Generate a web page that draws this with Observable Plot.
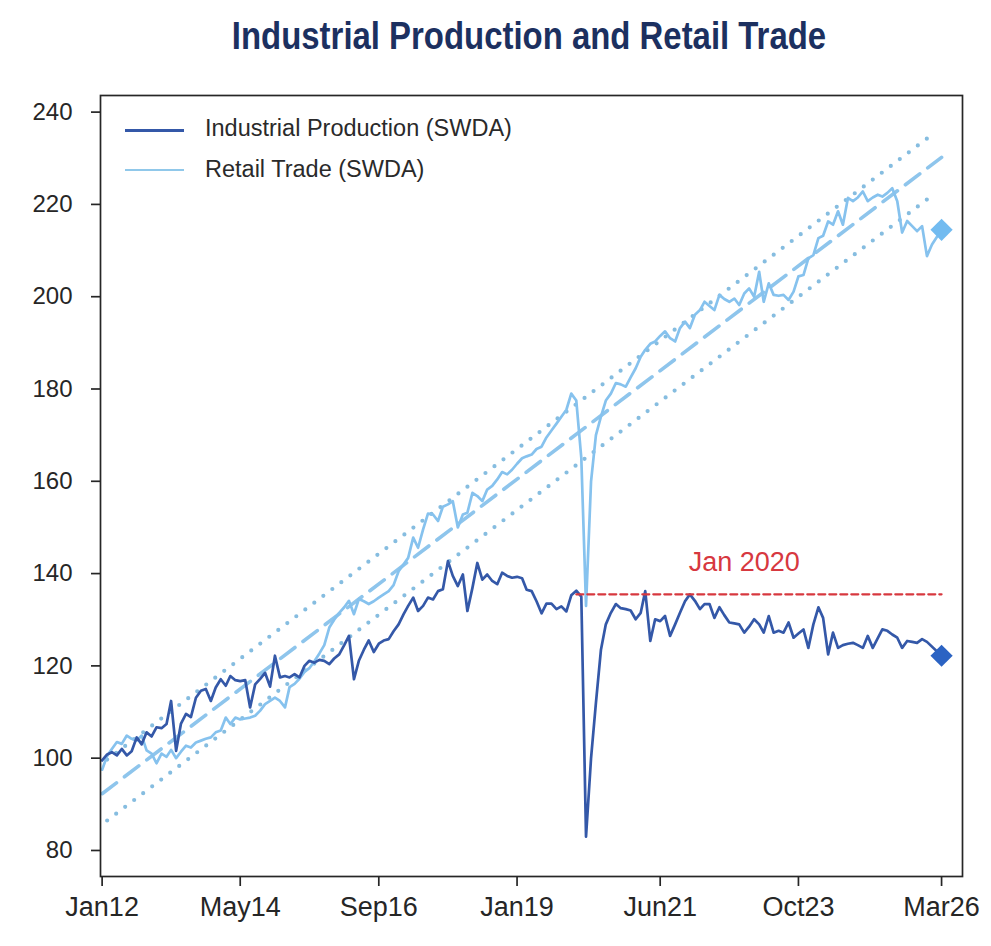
<!DOCTYPE html>
<html>
<head>
<meta charset="utf-8">
<script src="https://cdn.jsdelivr.net/npm/d3@7"></script>
<script src="https://cdn.jsdelivr.net/npm/@observablehq/plot@0.6"></script>
<style>
  body { margin: 0; background: #fff; font-family: "Liberation Sans", Arial, sans-serif; }
  #wrap { position: relative; width: 991px; height: 946px; overflow: hidden; }
  #title { position: absolute; left: 528.7px; top: 17.4px; font-size: 38px; font-weight: bold;
           line-height: 1; color: #1c3060; white-space: nowrap;
           transform: translateX(-50%) scaleX(0.866); transform-origin: center; }
  #chart { position: absolute; left: 0; top: 70px; }
  .leg { position: absolute; font-size: 23.5px; line-height: 1; color: #2a2a2a; white-space: nowrap; }
  .sw { position: absolute; height: 2.6px; width: 59px; left: 125px; }
</style>
</head>
<body>
<div id="wrap">
  <div id="title">Industrial Production and Retail Trade</div>
  <div id="chart"></div>
  <div class="sw" id="sw1" style="top:129.4px;"></div>
  <div class="leg" id="lg1" style="left:205px; top:116.5px;"></div>
  <div class="sw" id="sw2" style="top:168.7px;"></div>
  <div class="leg" id="lg2" style="left:205px; top:158px;"></div>
</div>
<script>
// ---------------- data ----------------
const startMonth = "2012-01";

const seriesNames = ["Industrial Production (SWDA)", "Retail Trade (SWDA)"];

const ipValues = [
  99.5, 100.8, 101.3, 100.6, 102.0, 100.6, 101.5, 104.5, 103.0, 105.6, 104.7, 106.7,
  106.5, 107.4, 112.4, 101.6, 107.5, 109.6, 108.9, 113.1, 114.6, 115.0, 112.4, 115.3,
  117.1, 115.7, 117.8, 116.9, 116.7, 116.9, 111.0, 116.0, 117.2, 118.5, 115.5, 122.2,
  117.5, 117.8, 117.5, 118.2, 117.5, 120.0, 121.1, 120.7, 121.3, 121.1, 120.4, 121.6,
  122.5, 124.5, 126.5, 117.1, 121.1, 123.5, 125.5, 123.0, 124.8, 125.5, 125.8, 127.5,
  129.0, 131.2, 133.0, 134.8, 131.9, 133.0, 134.8, 134.4, 136.2, 136.6, 142.7, 139.5,
  137.3, 139.8, 131.9, 136.9, 142.3, 138.7, 139.8, 138.4, 137.7, 140.2, 139.5, 139.1,
  139.3, 139.0, 136.5, 136.2, 134.0, 131.4, 133.5, 133.5, 132.3, 132.9, 131.8, 135.3,
  136.3, 135.0, 83.0, 100.0, 112.0, 123.5, 129.0, 131.5, 133.4, 132.5, 132.3, 132.0,
  130.1, 131.5, 136.2, 125.4, 130.1, 129.7, 130.8, 126.5, 129.0, 131.5, 134.0, 135.5,
  134.1, 132.3, 133.4, 133.4, 130.4, 132.7, 131.0, 129.4, 129.2, 129.0, 127.2, 128.5,
  130.1, 129.0, 127.2, 130.8, 127.2, 127.6, 127.2, 129.4, 126.1, 127.0, 127.9, 123.9,
  129.0, 132.7, 130.4, 122.5, 127.2, 123.9, 124.5, 124.8, 125.0, 124.5, 123.9, 126.5,
  123.9, 126.0, 127.9, 127.6, 126.8, 126.1, 123.9, 125.4, 125.2, 125.0, 125.8, 125.2
];

const rtValues = [
  97.5, 100.5, 102.0, 103.5, 103.1, 104.9, 104.2, 103.8, 104.9, 101.7, 101.0, 98.9,
  101.0, 100.3, 101.8, 100.0, 101.4, 102.7, 102.3, 103.4, 103.8, 104.2, 104.5, 105.6,
  106.0, 108.8, 107.4, 108.8, 108.4, 108.6, 108.8, 109.2, 110.3, 111.7, 112.4, 113.1,
  112.4, 111.0, 115.4, 116.1, 117.2, 118.7, 119.5, 121.0, 122.7, 124.5, 128.3, 130.0,
  131.5, 132.7, 134.1, 131.2, 134.5, 134.0, 133.4, 134.0, 134.8, 135.5, 136.2, 137.5,
  140.5, 142.0, 143.4, 147.8, 145.6, 149.6, 153.0, 152.8, 151.4, 154.5, 155.0, 155.7,
  150.0, 152.8, 153.2, 157.5, 156.8, 155.7, 158.2, 159.0, 160.4, 162.0, 161.5, 162.5,
  163.8, 165.0, 165.4, 165.8, 167.0, 167.5, 169.5, 171.0, 172.5, 174.0, 175.5, 179.0,
  177.5, 165.0, 133.0, 160.0, 170.0, 174.0, 177.5, 179.0, 181.3, 181.0, 180.5, 182.5,
  184.5, 187.0, 188.5, 189.8, 190.3, 191.5, 192.5, 191.0, 190.3, 193.2, 194.6, 193.2,
  196.1, 197.1, 198.9, 198.0, 197.1, 200.4, 199.5, 198.9, 199.6, 198.2, 200.7, 201.8,
  200.0, 205.4, 198.9, 202.9, 200.4, 200.2, 200.4, 199.3, 201.1, 204.4, 204.7, 208.3,
  209.0, 212.7, 213.2, 216.3, 215.6, 218.5, 215.6, 221.4, 220.7, 221.5, 222.8, 220.7,
  221.5, 222.1, 221.7, 222.5, 223.5, 220.7, 213.9, 216.4, 215.3, 214.2, 215.3, 208.8,
  211.3
];

// latest points (diamonds)
const lastMonth = "2026-03";
const ipLast = 122.2;
const rtLast = 214.5;

// retail trend (dashed) and band (dotted)
const trendMonths = ["2012-01", "2026-03"];
const trendValues = [92.3, 230.2];
const bandMonths = ["2012-02", "2026-01"];
const bandUpper = [99.7, 235.1];
const bandLower = [86.5, 221.9];

// Jan 2020 reference line
const refMonths = ["2020-01", "2026-03"];
const refValue = 135.5;
const refLabel = "Jan 2020";
const refLabelMonth = "2022-11";
const refLabelValue = 142.4;

// axes
const tickMonths = ["2012-01", "2014-05", "2016-09", "2019-01", "2021-06", "2023-10", "2026-03"];
const tickLabels = ["Jan12", "May14", "Sep16", "Jan19", "Jun21", "Oct23", "Mar26"];
const yTicks = [80, 100, 120, 140, 160, 180, 200, 220, 240];

// colours
const ipColor = "#3458a8";
const rtColor = "#86c2ee";
const ipDiamond = "#2b63c3";
const rtDiamond = "#72bbf0";
const trendColor = "#8ec5ec";
const bandColor = "#86bde0";
const refColor = "#d7383f";
const axisColor = "#262626";

// ---------------- build ----------------
const parse = d3.utcParse("%Y-%m");
const t0 = parse(startMonth);
const ipData = ipValues.map((v, i) => ({date: d3.utcMonth.offset(t0, i), value: v}))
  .concat([{date: parse(lastMonth), value: ipLast}]);
const rtData = rtValues.map((v, i) => ({date: d3.utcMonth.offset(t0, i), value: v}))
  .concat([{date: parse(lastMonth), value: rtLast}]);
const trendData = trendMonths.map((m, i) => ({date: parse(m), value: trendValues[i]}));
const upperData = bandMonths.map((m, i) => ({date: parse(m), value: bandUpper[i]}));
const lowerData = bandMonths.map((m, i) => ({date: parse(m), value: bandLower[i]}));
const refData = refMonths.map(m => ({date: parse(m), value: refValue}));
const tickDates = tickMonths.map(parse);
const labelByTime = new Map(tickDates.map((d, i) => [+d, tickLabels[i]]));

document.getElementById("sw1").style.background = ipColor;
document.getElementById("sw2").style.background = "#90c8ea";
document.getElementById("lg1").textContent = seriesNames[0];
document.getElementById("lg2").textContent = seriesNames[1];

const chart = Plot.plot({
  width: 991,
  height: 876,
  marginTop: 25,
  marginBottom: 70,
  marginLeft: 100,
  marginRight: 29,
  style: {fontFamily: "'Liberation Sans', Arial, sans-serif", background: "#fff", color: axisColor, overflow: "visible"},
  x: {type: "utc", domain: [new Date(Date.UTC(2011, 11, 22)), new Date(Date.UTC(2026, 6, 8))], label: null},
  y: {domain: [74.36, 243.6], label: null},
  marks: [
    Plot.line(upperData, {x: "date", y: "value", stroke: bandColor, strokeWidth: 4.2, strokeDasharray: "0,11.3", strokeLinecap: "round"}),
    Plot.line(lowerData, {x: "date", y: "value", stroke: bandColor, strokeWidth: 4.2, strokeDasharray: "0,11.3", strokeLinecap: "round"}),
    Plot.line(trendData, {x: "date", y: "value", stroke: trendColor, strokeWidth: 3.6, strokeDasharray: "18,10"}),
    Plot.line(rtData, {x: "date", y: "value", stroke: rtColor, strokeWidth: 2.7, strokeLinejoin: "round"}),
    Plot.line(ipData, {x: "date", y: "value", stroke: ipColor, strokeWidth: 2.7, strokeLinejoin: "round"}),
    Plot.line(refData, {x: "date", y: "value", stroke: refColor, strokeWidth: 2.2, strokeDasharray: "7,4"}),
    Plot.text([{date: parse(refLabelMonth), value: refLabelValue, label: refLabel}],
      {x: "date", y: "value", text: "label", fill: refColor, fontSize: 27}),
    Plot.dot([{date: parse(lastMonth), value: rtLast}], {x: "date", y: "value", symbol: "diamond2", r: 10, fill: rtDiamond}),
    Plot.dot([{date: parse(lastMonth), value: ipLast}], {x: "date", y: "value", symbol: "diamond2", r: 10, fill: ipDiamond}),
    Plot.frame({stroke: axisColor, strokeWidth: 1.7}),
    Plot.axisY({ticks: yTicks, tickSize: 9, tickPadding: 19, fontSize: 24, label: null, strokeWidth: 1.7}),
    Plot.axisX({ticks: tickDates, tickFormat: d => labelByTime.get(+d), tickSize: 10, tickPadding: 10, fontSize: 27, label: null, strokeWidth: 1.7})
  ]
});
document.getElementById("chart").appendChild(chart);
</script>
</body>
</html>
